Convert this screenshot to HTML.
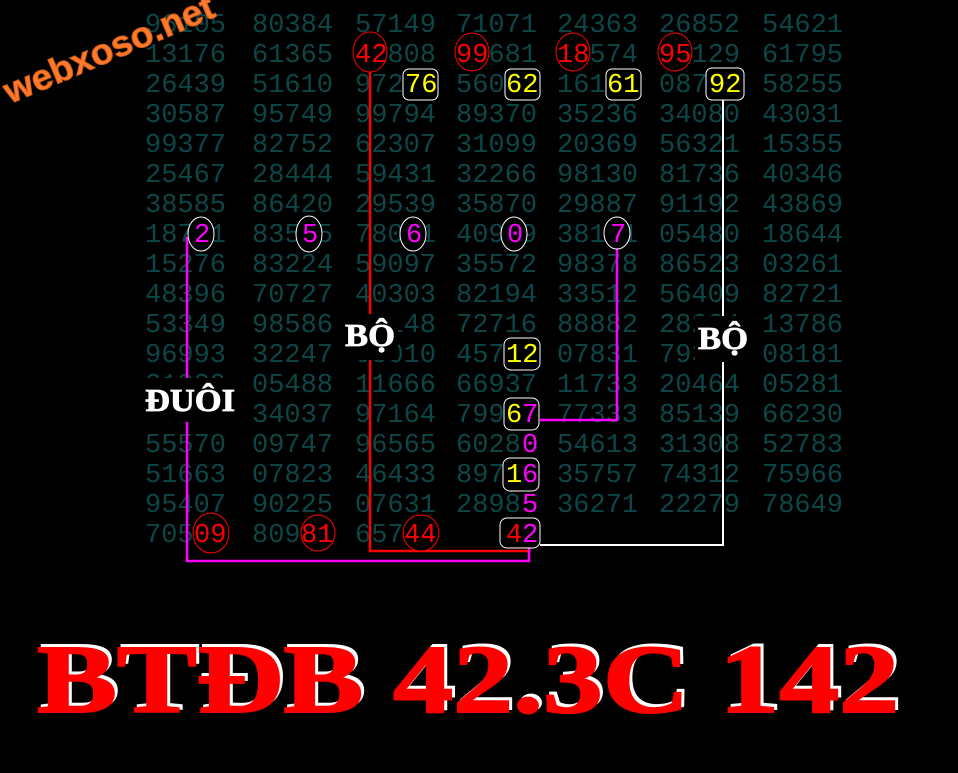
<!DOCTYPE html>
<html><head><meta charset="utf-8"><style>
html,body{margin:0;padding:0;background:#000;width:958px;height:773px;overflow:hidden}
svg{display:block}
.g{font-family:"Liberation Mono",monospace;font-size:27px;fill:#0c4646}
.d{font-family:"Liberation Mono",monospace;font-size:27px}
.lb{font-family:"Liberation Serif",serif;font-weight:bold;font-size:32px;fill:#fff;stroke:#fff;stroke-width:0.8}
</style></head><body>
<svg width="958" height="773" viewBox="0 0 958 773" xmlns="http://www.w3.org/2000/svg">
<g class="g">
<text x="145" y="32">96105</text><text x="252" y="32">80384</text><text x="355" y="32">57149</text><text x="456" y="32">71071</text><text x="557" y="32">24363</text><text x="659" y="32">26852</text><text x="762" y="32">54621</text>
<text x="145" y="62">13176</text><text x="252" y="62">61365</text><text x="355" y="62">42808</text><text x="456" y="62">99681</text><text x="557" y="62">18574</text><text x="659" y="62">95129</text><text x="762" y="62">61795</text>
<text x="145" y="92">26439</text><text x="252" y="92">51610</text><text x="355" y="92">97276</text><text x="456" y="92">56062</text><text x="557" y="92">16161</text><text x="659" y="92">08792</text><text x="762" y="92">58255</text>
<text x="145" y="122">30587</text><text x="252" y="122">95749</text><text x="355" y="122">99794</text><text x="456" y="122">89370</text><text x="557" y="122">35236</text><text x="659" y="122">34080</text><text x="762" y="122">43031</text>
<text x="145" y="152">99377</text><text x="252" y="152">82752</text><text x="355" y="152">62307</text><text x="456" y="152">31099</text><text x="557" y="152">20369</text><text x="659" y="152">56321</text><text x="762" y="152">15355</text>
<text x="145" y="182">25467</text><text x="252" y="182">28444</text><text x="355" y="182">59431</text><text x="456" y="182">32266</text><text x="557" y="182">98130</text><text x="659" y="182">81736</text><text x="762" y="182">40346</text>
<text x="145" y="212">38585</text><text x="252" y="212">86420</text><text x="355" y="212">29539</text><text x="456" y="212">35870</text><text x="557" y="212">29887</text><text x="659" y="212">91192</text><text x="762" y="212">43869</text>
<text x="145" y="242">18721</text><text x="252" y="242">83555</text><text x="355" y="242">78061</text><text x="456" y="242">40909</text><text x="557" y="242">38171</text><text x="659" y="242">05480</text><text x="762" y="242">18644</text>
<text x="145" y="272">15276</text><text x="252" y="272">83224</text><text x="355" y="272">59097</text><text x="456" y="272">35572</text><text x="557" y="272">98378</text><text x="659" y="272">86523</text><text x="762" y="272">03261</text>
<text x="145" y="302">48396</text><text x="252" y="302">70727</text><text x="355" y="302">40303</text><text x="456" y="302">82194</text><text x="557" y="302">33512</text><text x="659" y="302">56409</text><text x="762" y="302">82721</text>
<text x="145" y="332">53349</text><text x="252" y="332">98586</text><text x="355" y="332">06148</text><text x="456" y="332">72716</text><text x="557" y="332">88882</text><text x="659" y="332">28234</text><text x="762" y="332">13786</text>
<text x="145" y="362">96993</text><text x="252" y="362">32247</text><text x="355" y="362">05010</text><text x="456" y="362">45712</text><text x="557" y="362">07831</text><text x="659" y="362">79361</text><text x="762" y="362">08181</text>
<text x="145" y="392">21029</text><text x="252" y="392">05488</text><text x="355" y="392">11666</text><text x="456" y="392">66937</text><text x="557" y="392">11733</text><text x="659" y="392">20464</text><text x="762" y="392">05281</text>
<text x="145" y="422">08020</text><text x="252" y="422">34037</text><text x="355" y="422">97164</text><text x="456" y="422">79967</text><text x="557" y="422">77333</text><text x="659" y="422">85139</text><text x="762" y="422">66230</text>
<text x="145" y="452">55570</text><text x="252" y="452">09747</text><text x="355" y="452">96565</text><text x="456" y="452">6028</text><text x="557" y="452">54613</text><text x="659" y="452">31308</text><text x="762" y="452">52783</text>
<text x="145" y="482">51663</text><text x="252" y="482">07823</text><text x="355" y="482">46433</text><text x="456" y="482">89716</text><text x="557" y="482">35757</text><text x="659" y="482">74312</text><text x="762" y="482">75966</text>
<text x="145" y="512">95407</text><text x="252" y="512">90225</text><text x="355" y="512">07631</text><text x="456" y="512">2898</text><text x="557" y="512">36271</text><text x="659" y="512">22279</text><text x="762" y="512">78649</text>
<text x="145" y="542">705</text><text x="252" y="542">809</text><text x="355" y="542">657</text>
</g>
<polyline points="370,72 370,551 529,551 529,548" fill="none" stroke="#f00" stroke-width="2.5"/>
<polyline points="187,237 187,561 529,561 529,548" fill="none" stroke="#f0f" stroke-width="2.5"/>
<polyline points="617,247 617,420 540,420" fill="none" stroke="#f0f" stroke-width="2.5"/>
<polyline points="723,100 723,545 540,545" fill="none" stroke="#fff" stroke-width="2"/>
<g fill="#000" stroke="#f00" stroke-width="1">
<ellipse cx="370" cy="52" rx="17" ry="20"/><ellipse cx="472" cy="52" rx="17" ry="19"/><ellipse cx="573" cy="52" rx="17" ry="19"/><ellipse cx="675" cy="52" rx="17" ry="19"/>
<ellipse cx="211" cy="533" rx="18" ry="20"/><ellipse cx="318" cy="533" rx="17" ry="18"/><ellipse cx="421" cy="533" rx="18" ry="18"/>
</g>
<g class="d" fill="#f00">
<text x="355" y="62">42</text><text x="456" y="62">99</text><text x="557" y="62">18</text><text x="659" y="62">95</text>
<text x="194" y="542">09</text><text x="301" y="542">81</text><text x="404" y="542">44</text>
</g>
<g fill="#000" stroke="#fff" stroke-width="1">
<rect x="403" y="69" width="35" height="31" rx="6"/><rect x="505" y="69" width="35" height="31" rx="6"/><rect x="606" y="69" width="35" height="31" rx="6"/><rect x="706" y="68" width="38" height="32" rx="6"/>
<rect x="504" y="338" width="36" height="32" rx="7"/><rect x="504" y="398" width="35" height="32" rx="7"/><rect x="503" y="458" width="36" height="33" rx="7"/><rect x="500" y="518" width="40" height="30" rx="7"/>
</g>
<g class="d" fill="#ff0">
<text x="405" y="92">76</text><text x="506" y="92">62</text><text x="607" y="92">61</text><text x="709" y="92">92</text>
<text x="506" y="362">12</text><text x="506" y="422">6</text><text x="506" y="482">1</text>
</g>
<g class="d" fill="#f0f">
<text x="522" y="422">7</text><text x="522" y="482">6</text><text x="522" y="542">2</text><text x="522" y="452">0</text><text x="522" y="512">5</text>
</g>
<text class="d" x="506" y="542" fill="#f00">4</text>
<g fill="#000" stroke="#fff" stroke-width="1">
<ellipse cx="201" cy="234" rx="13" ry="17"/><ellipse cx="309" cy="234" rx="13" ry="18"/><ellipse cx="413" cy="234" rx="13" ry="17"/><ellipse cx="514" cy="234" rx="13" ry="17"/><ellipse cx="617" cy="233" rx="13" ry="16"/>
</g>
<g class="d" fill="#f0f">
<text x="194" y="242">2</text><text x="302" y="242">5</text><text x="406" y="242">6</text><text x="507" y="242">0</text><text x="610" y="242">7</text>
</g>
<rect x="342" y="314" width="56" height="46" fill="#000"/>
<text class="lb" x="345" y="346" textLength="50" lengthAdjust="spacingAndGlyphs">BỘ</text>
<rect x="695" y="316" width="56" height="46" fill="#000"/>
<text class="lb" x="698" y="349" textLength="50" lengthAdjust="spacingAndGlyphs">BỘ</text>
<rect x="141" y="378" width="98" height="44" fill="#000"/>
<text class="lb" x="145" y="411" textLength="90" lengthAdjust="spacingAndGlyphs">ĐUÔI</text>
<text x="0" y="0" transform="translate(10,104) rotate(-23)" font-family="Liberation Sans,sans-serif" font-weight="bold" font-size="36" fill="#ff7a2a" stroke="#d05a18" stroke-width="1" textLength="225" lengthAdjust="spacingAndGlyphs">webxoso.net</text>
<text x="40" y="709" font-family="Liberation Serif,serif" font-weight="bold" font-size="98" fill="#fff" stroke="#fff" stroke-width="2" textLength="862" lengthAdjust="spacingAndGlyphs">BTĐB 42.3C 142</text>
<text x="37" y="712" font-family="Liberation Serif,serif" font-weight="bold" font-size="98" fill="#f00" stroke="#f00" stroke-width="2" textLength="862" lengthAdjust="spacingAndGlyphs">BTĐB 42.3C 142</text>
</svg>
</body></html>
